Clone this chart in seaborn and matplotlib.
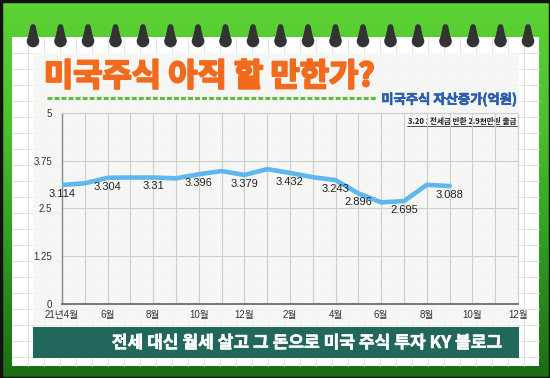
import numpy as np
import matplotlib
matplotlib.use("Agg")
import matplotlib.pyplot as plt
import matplotlib.patheffects as pe
from matplotlib.patches import Rectangle, Circle, Polygon
from matplotlib.colors import LinearSegmentedColormap
import seaborn as sns

# ---------------- data ----------------
month_index = list(range(18))  # 21년4월 .. 22년9월
asset_values = [3.114, 3.16, 3.304, 3.31, 3.31, 3.29, 3.396, 3.48, 3.379,
                3.53, 3.432, 3.32, 3.243, 2.896, 2.66, 2.695, 3.12, 3.088]
label_index = [0, 2, 4, 6, 8, 10, 12, 13, 15, 17]
label_texts = ["3.114", "3.304", "3.31", "3.396", "3.379", "3.432",
               "3.243", "2.896", "2.695", "3.088"]
xtick_labels = ["21년4월", "6월", "8월", "10월", "12월", "2월", "4월",
                "6월", "8월", "10월", "12월"]
ytick_values = [0, 1.25, 2.5, 3.75, 5]
ytick_labels = ["0", "1.25", "2.5", "3.75", "5"]

title = "미국주식 아직 할 만한가?"
subtitle = "미국주식 자산증가(억원)"
note = "3.20 : 전세금 반환 2.9천만원 출금"
banner = "전세 대신 월세 살고 그 돈으로 미국 주식 투자 KY 블로그"

# ---------------- style ----------------
sns.set_style("white")
plt.rcParams["font.family"] = ["Liberation Sans", "Noto Sans CJK KR", "DejaVu Sans"]
KR = ["Noto Sans CJK KR", "DejaVu Sans"]


def thick(color, w):
    return [pe.withStroke(linewidth=w, foreground=color)]


W, H = 550, 378
fig = plt.figure(figsize=(5.5, 3.78), dpi=100)

# ---------------- background decoration ----------------
bg = fig.add_axes([0, 0, 1, 1])
bg.set_xlim(0, W)
bg.set_ylim(H, 0)
bg.axis("off")

green = LinearSegmentedColormap.from_list("g", ["#5dd335", "#4cc02d", "#2f9a21", "#1b6d12"])
bg.imshow(np.linspace(0, 1, 200).reshape(-1, 1), cmap=green, extent=[0, W, H, 0],
          aspect="auto", zorder=0)
bg.add_patch(Rectangle((0.5, 0.5), W - 1, H - 1, fill=False, ec="#111111", lw=2.5, zorder=1))

# paper
px0, py0, px1, py1 = 12, 37, 539, 366
bg.add_patch(Rectangle((px0, py0), px1 - px0, py1 - py0, fc="white", ec="none", zorder=1))
for gx in np.arange(px0 + 16, px1, 16):
    bg.plot([gx, gx], [py0, py1], color="#e2e2e2", lw=0.7, zorder=1.5)
for gy in np.arange(py0 + 16, py1, 16):
    bg.plot([px0, px1], [gy, gy], color="#e2e2e2", lw=0.7, zorder=1.5)

# panel
bg.add_patch(Rectangle((33, 53), 486, 270, fc="#f6f6f3", ec="none", alpha=0.9, zorder=2))

# spiral rings
for i in range(19):
    cx = 33 + 27.5 * i
    bg.add_patch(Circle((cx, 41), 6.3, fc="#333333", ec="none", zorder=3))
    bg.add_patch(Circle((cx, 27), 2.8, fc="#333333", ec="none", zorder=3))
    bg.add_patch(Polygon([(cx - 2.8, 27), (cx + 2.8, 27), (cx + 5.2, 38), (cx - 5.2, 38)],
                         fc="#333333", ec="none", zorder=3))

# title & subtitle
bg.text(44, 77, title, family=KR, fontsize=22.9, fontweight="black",
        color="#f26b1d", ha="left", va="center", zorder=4,
        path_effects=thick("#f26b1d", 1.5))
bg.plot([47, 377], [97.5, 97.5], color="#5cbf38", lw=2.2, dashes=(1.6, 0.7), zorder=4)
bg.text(517, 99.5, subtitle, family=KR, fontsize=9.6, fontweight="bold",
        color="#2b5fae", ha="right", va="center", zorder=4,
        path_effects=thick("#2b5fae", 0.5))

# note
bg.text(517, 121.5, note, family=KR, fontsize=5.5, fontweight="bold",
        color="#222222", ha="right", va="center", zorder=4)
bg.plot([407, 517], [126, 126], color="#333333", lw=0.6, zorder=4)

# banner
bg.add_patch(Rectangle((33, 327), 486, 31, fc="#21675b", ec="none", zorder=4))
bg.text(503, 343, banner, family=KR, fontsize=12.3, fontweight="bold",
        color="white", ha="right", va="center", zorder=5,
        path_effects=thick("white", 0.4))

# ---------------- chart ----------------
ax = fig.add_axes([62 / W, (H - 304) / H, 456 / W, 191 / H])
ax.set_facecolor("none")
sns.lineplot(x=month_index, y=asset_values, ax=ax, color="#5cb8ee", lw=3.3,
             solid_joinstyle="round", solid_capstyle="round", zorder=3)

for i, t in zip(label_index, label_texts):
    ax.annotate(t, (month_index[i], asset_values[i]), xytext=(0, -6.3),
                textcoords="offset points", ha="center", va="center",
                fontsize=8, color="#222222", zorder=4)

ax.set_xlim(0, 20)
ax.set_ylim(0, 5)
ax.set_xticks(range(0, 21, 2))
ax.set_xticklabels(xtick_labels)
ax.set_xticks(range(0, 21), minor=True)
ax.set_yticks(ytick_values)
ax.set_yticklabels(ytick_labels)
ax.grid(which="both", axis="x", color="#cdcdcd", lw=0.8)
ax.grid(which="major", axis="y", color="#cdcdcd", lw=0.8)
ax.tick_params(axis="both", which="both", length=0, labelsize=7, colors="#333333")
ax.tick_params(axis="y", pad=7)
ax.tick_params(axis="x", pad=4.5)
ax.set_xlabel("")
ax.set_ylabel("")
for s in ["top", "right"]:
    ax.spines[s].set_color("#cfcfcf")
    ax.spines[s].set_linewidth(0.8)
ax.spines["left"].set_color("#8a8a8a")
ax.spines["left"].set_linewidth(1.0)
ax.spines["bottom"].set_color("#777777")
ax.spines["bottom"].set_linewidth(1.4)

fig.savefig("out.png", dpi=100)
